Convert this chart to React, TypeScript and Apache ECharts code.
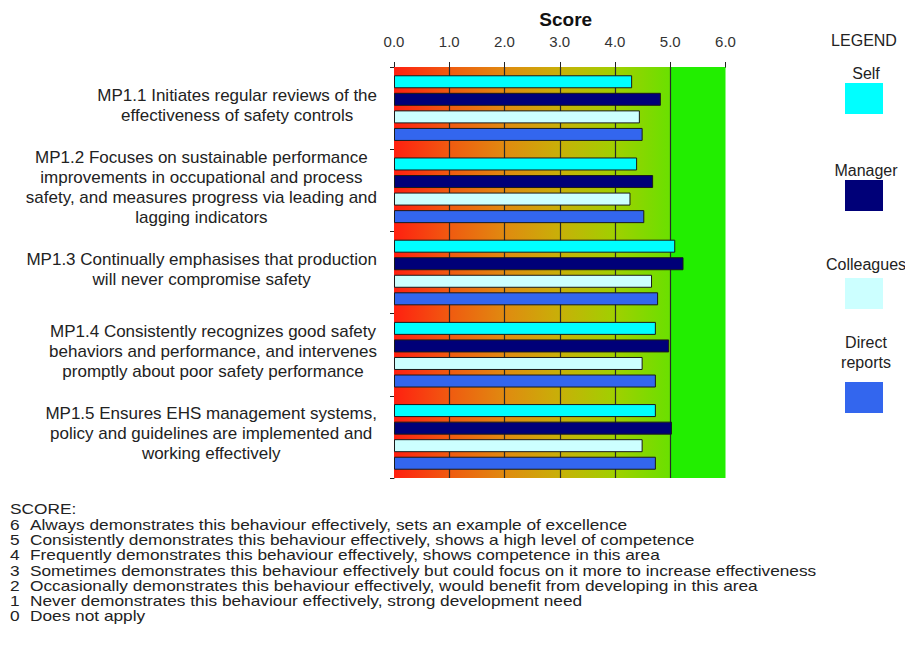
import React, { useEffect, useRef } from "react";
import * as echarts from "echarts";

const categories = [
  "MP1.1 Initiates regular reviews of the\neffectiveness of safety controls",
  "MP1.2 Focuses on sustainable performance\nimprovements in occupational and process\nsafety, and measures progress via leading and\nlagging indicators",
  "MP1.3 Continually emphasises that production\nwill never compromise safety",
  "MP1.4 Consistently recognizes good safety\nbehaviors and performance, and intervenes\npromptly about poor safety performance",
  "MP1.5 Ensures EHS management systems,\npolicy and guidelines are implemented and\nworking effectively",
];

const selfValues = [4.31, 4.4, 5.09, 4.74, 4.74];
const managerValues = [4.83, 4.69, 5.24, 4.98, 5.03];
const colleaguesValues = [4.45, 4.28, 4.67, 4.5, 4.5];
const directReportsValues = [4.5, 4.53, 4.78, 4.74, 4.74];

const seriesNames = ["Self", "Manager", "Colleagues", "Direct\nreports"];
const seriesColors = ["#00ffff", "#000078", "#ccffff", "#3366ee"];

const scoreLines = [
  ["6", "Always demonstrates this behaviour effectively, sets an example of excellence"],
  ["5", "Consistently demonstrates this behaviour effectively, shows a high level of competence"],
  ["4", "Frequently demonstrates this behaviour effectively, shows competence in this area"],
  ["3", "Sometimes demonstrates this behaviour effectively but could focus on it more to increase effectiveness"],
  ["2", "Occasionally demonstrates this behaviour effectively, would benefit from developing in this area"],
  ["1", "Never demonstrates this behaviour effectively, strong development need"],
  ["0", "Does not apply"],
];

const gridLineValues = [1, 2, 3, 4, 5];

const FONT = "'Liberation Sans', Arial, sans-serif";

export default function App() {
  const ref = useRef<HTMLDivElement>(null);
  useEffect(() => {
    document.body.style.margin = "0";
    const chart = echarts.init(ref.current!, null, { renderer: "svg" });
    const dataSets = [selfValues, managerValues, colleaguesValues, directReportsValues];

    const bars = dataSets.map((d, i) => ({
      name: seriesNames[i],
      type: "bar",
      data: d,
      barWidth: 13,
      barGap: "35%",
      z: 3,
      itemStyle: { color: seriesColors[i], borderColor: "#1a1a1a", borderWidth: 1 },
      ...(i === 0
        ? {
            markArea: {
              silent: true,
              z: 1,
              data: [
                [
                  {
                    xAxis: 0,
                    itemStyle: {
                      color: new echarts.graphic.LinearGradient(0, 0, 1, 0, [
                        { offset: 0, color: "#ff2010" },
                        { offset: 0.2, color: "#f05a10" },
                        { offset: 0.4, color: "#e08a10" },
                        { offset: 0.6, color: "#c8b008" },
                        { offset: 0.8, color: "#a0d000" },
                        { offset: 1, color: "#6ae000" },
                      ]),
                    },
                  },
                  { xAxis: 5 },
                ],
                [{ xAxis: 5, itemStyle: { color: "#22ee00" } }, { xAxis: 6 }],
              ],
            },
            markLine: {
              silent: true,
              z: 2,
              symbol: "none",
              label: { show: false },
              lineStyle: { color: "#2a2a2a", width: 1.2, type: "solid" },
              data: gridLineValues.map((v) => ({ xAxis: v })),
            },
          }
        : {}),
    }));

    const graphics: any[] = [
      {
        type: "text",
        x: 864,
        y: 40,
        style: { text: "LEGEND", font: `16px ${FONT}`, fill: "#222", align: "center", verticalAlign: "middle" },
      },
    ];
    const legendLabelY = [73, 170, 264, 352];
    const legendSwatchY = [83, 180, 278, 382];
    seriesNames.forEach((n, i) => {
      graphics.push({
        type: "text",
        x: 866,
        y: legendLabelY[i],
        style: {
          text: n,
          font: `16px ${FONT}`,
          fill: "#222",
          align: "center",
          verticalAlign: "middle",
          lineHeight: 20,
        },
      });
      graphics.push({
        type: "rect",
        shape: { x: 845, y: legendSwatchY[i], width: 38, height: 31 },
        style: { fill: seriesColors[i] },
      });
    });
    const bottomFont = `14.4px ${FONT}`;
    const sx = 1.2;
    graphics.push({
      type: "text",
      x: 10,
      y: 509,
      scaleX: sx,
      style: { text: "SCORE:", font: bottomFont, fill: "#222", verticalAlign: "middle", lineHeight: 15 },
    });
    scoreLines.forEach(([num, txt], i) => {
      graphics.push({
        type: "text",
        x: 10,
        y: 525 + i * 15.2,
        scaleX: sx,
        style: { text: num, font: bottomFont, fill: "#222", verticalAlign: "middle", lineHeight: 15 },
      });
      graphics.push({
        type: "text",
        x: 30,
        y: 525 + i * 15.2,
        scaleX: sx,
        style: { text: txt, font: bottomFont, fill: "#222", verticalAlign: "middle", lineHeight: 15 },
      });
    });

    chart.setOption({
      animation: false,
      backgroundColor: "#ffffff",
      textStyle: { fontFamily: FONT },
      grid: { left: 394, top: 67, width: 331.5, height: 411, containLabel: false },
      xAxis: {
        type: "value",
        position: "top",
        min: 0,
        max: 6,
        interval: 1,
        name: "Score",
        nameLocation: "middle",
        nameGap: 38,
        nameTextStyle: {
          fontSize: 19,
          fontWeight: "bold",
          color: "#111",
          fontFamily: FONT,
          padding: [0, 0, 0, 12],
        },
        axisLine: { show: true, lineStyle: { color: "#222", width: 1 } },
        axisTick: { show: true, length: 5, lineStyle: { color: "#222" } },
        axisLabel: {
          fontSize: 15,
          color: "#333",
          margin: 18,
          formatter: (v: number) => v.toFixed(1),
        },
        splitLine: { show: false },
      },
      yAxis: {
        type: "category",
        inverse: true,
        data: categories,
        axisLine: { show: true, lineStyle: { color: "#222", width: 1 } },
        axisTick: { show: true, length: 4, lineStyle: { color: "#222" } },
        axisLabel: {
          margin: 17,
          align: "right",
          color: "#222",
          fontSize: 17,
          lineHeight: 20,
          padding: [0, 0, 6, 0],
          formatter: (v: string) =>
            v
              .split("\n")
              .map((l) => `{c|${l}}`)
              .join("\n"),
          rich: { c: { align: "center", fontSize: 17, lineHeight: 20, color: "#222", fontFamily: FONT } },
        },
      },
      series: bars,
      graphic: graphics,
    });
    return () => chart.dispose();
  }, []);
  return <div ref={ref} style={{ width: 905, height: 656 }} />;
}
